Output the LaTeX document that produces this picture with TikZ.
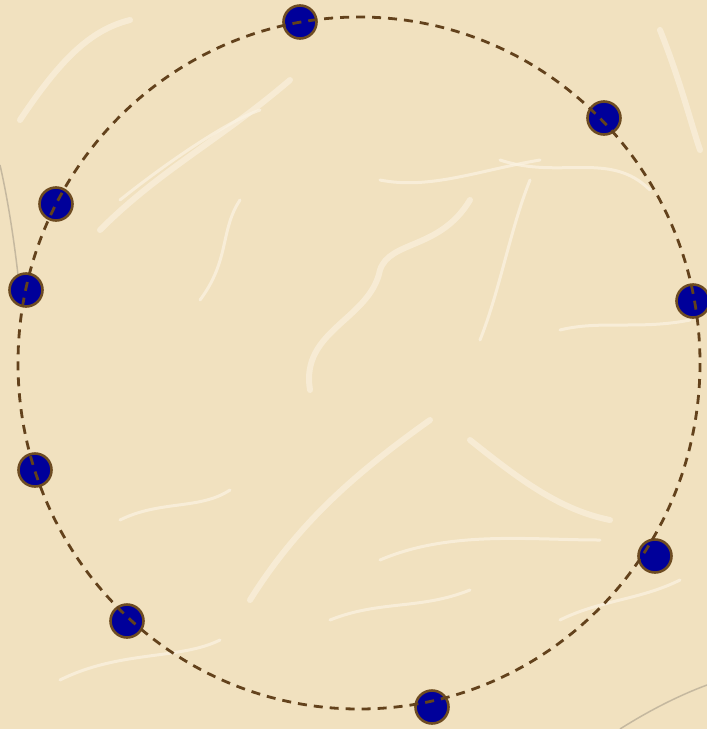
\documentclass[tikz,border=0pt]{standalone}
\definecolor{paper}{HTML}{F1E1BF}
\definecolor{fibre}{HTML}{FBF3E3}
\definecolor{ringbrown}{HTML}{63421C}
\definecolor{dotblue}{HTML}{00009A}
\definecolor{dotrim}{HTML}{6E4C22}
\definecolor{streak}{HTML}{9A9180}
\tikzset{
  dotnode/.style={circle, fill=dotblue, draw=dotrim, line width=2.6pt, minimum size=33pt, inner sep=0pt},
  ring/.style={draw=ringbrown, line width=2.8pt, dash pattern=on 9pt off 7pt},
  fibreline/.style={draw=fibre, line width=6pt, line cap=round, opacity=0.6},
  thinfibre/.style={draw=fibre, line width=3pt, line cap=round, opacity=0.7},
  streakline/.style={draw=streak, line width=1.5pt, opacity=0.5}
}
\begin{document}
\begin{tikzpicture}[x=1pt,y=-1pt]
\fill[paper] (0,0) rectangle (707,729);
\useasboundingbox (0,0) rectangle (707,729);
% paper fibres
\draw[fibreline] (100,230) .. controls (160,170) and (220,140) .. (290,80);
\draw[thinfibre] (120,200) .. controls (170,160) and (230,120) .. (260,110);
\draw[fibreline] (310,390) .. controls (300,330) and (370,320) .. (380,270) .. controls (390,240) and (440,250) .. (470,200);
\draw[thinfibre] (380,180) .. controls (430,190) and (480,170) .. (540,160);
\draw[thinfibre] (480,340) .. controls (500,290) and (510,230) .. (530,180);
\draw[fibreline] (250,600) .. controls (300,520) and (360,470) .. (430,420);
\draw[thinfibre] (380,560) .. controls (450,530) and (530,540) .. (600,540);
\draw[fibreline] (470,440) .. controls (520,480) and (560,510) .. (610,520);
\draw[fibreline] (20,120) .. controls (60,60) and (90,30) .. (130,20);
\draw[thinfibre] (200,300) .. controls (230,260) and (220,230) .. (240,200);
\draw[thinfibre] (560,330) .. controls (600,320) and (640,330) .. (690,320);
\draw[thinfibre] (60,680) .. controls (120,650) and (180,660) .. (220,640);
\draw[fibreline] (660,30) .. controls (680,80) and (690,120) .. (700,150);
\draw[thinfibre] (120,520) .. controls (160,500) and (200,510) .. (230,490);
\draw[thinfibre] (560,620) .. controls (600,600) and (640,600) .. (680,580);
\draw[thinfibre] (330,620) .. controls (380,600) and (420,610) .. (470,590);
\draw[thinfibre] (500,160) .. controls (560,180) and (610,150) .. (650,190);
% faint streaks
\draw[streakline] (0,165) .. controls (8,200) and (14,240) .. (18,275);
\draw[streakline] (620,729) .. controls (650,710) and (680,695) .. (707,685);
% the dots
\node[dotnode] (d1) at (300,22) {};
\node[dotnode] (d2) at (604,118) {};
\node[dotnode] (d3) at (56,204) {};
\node[dotnode] (d4) at (26,290) {};
\node[dotnode] (d5) at (693,301) {};
\node[dotnode] (d6) at (35,470) {};
\node[dotnode] (d7) at (655,556) {};
\node[dotnode] (d8) at (127,621) {};
\node[dotnode] (d9) at (432,707) {};
% dashed ring
\coordinate (c) at (359,363);
\draw[ring] (c) ellipse [x radius=341, y radius=346];
\end{tikzpicture}
\end{document}
